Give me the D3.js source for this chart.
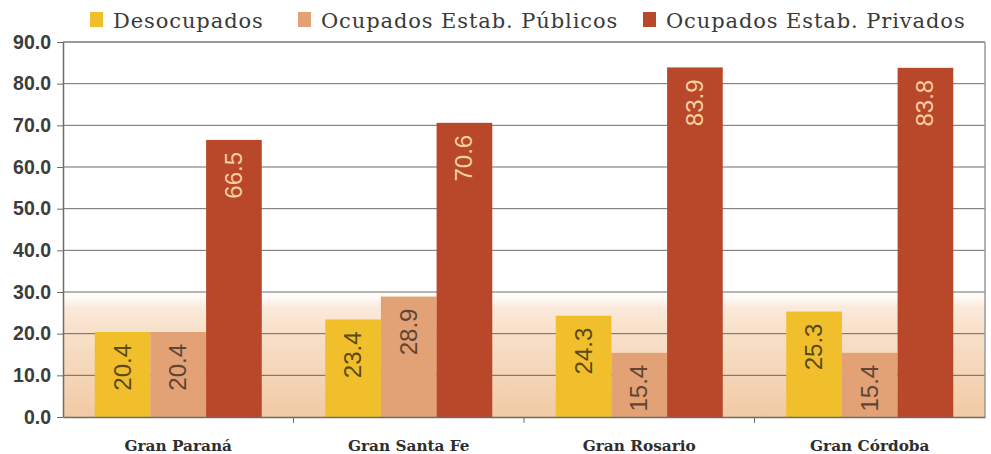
<!DOCTYPE html>
<html>
<head>
<meta charset="utf-8">
<script src="https://cdn.jsdelivr.net/npm/d3@7"></script>
<style>
  html, body { margin: 0; padding: 0; background: #fff; }
  svg { display: block; }
</style>
</head>
<body>
<svg id="chart" width="991" height="454"></svg>
<script>
// Regions and series
const categories = ["Gran Paraná", "Gran Santa Fe", "Gran Rosario", "Gran Córdoba"];
const seriesNames = ["Desocupados", "Ocupados Estab. Públicos", "Ocupados Estab. Privados"];
const desocupados = [20.4, 23.4, 24.3, 25.3];
const publicos = [20.4, 28.9, 15.4, 15.4];
const privados = [66.5, 70.6, 83.9, 83.8];
const yTicks = [0, 10, 20, 30, 40, 50, 60, 70, 80, 90];

const seriesValues = [desocupados, publicos, privados];
const colors = ["#f1bf2c", "#e2a276", "#b9482b"];
const labelColors = ["#5b4a12", "#5e4535", "#f6cf9e"];

const svg = d3.select("#chart");
const margin = { left: 63, right: 6, top: 42, bottom: 37 };
const W = 991, H = 454;
const plotW = W - margin.left - margin.right;
const plotH = H - margin.top - margin.bottom;

const g = svg.append("g").attr("transform", `translate(${margin.left},${margin.top})`);

const y = d3.scaleLinear().domain([0, 90]).range([plotH, 0]);
const x0 = d3.scaleBand().domain(categories).range([0, plotW]).paddingInner(0).paddingOuter(0);
const x1 = d3.scaleBand().domain(seriesNames).range([0, x0.bandwidth()])
  .paddingInner(0).paddingOuter(0.57);

// Warm band at the bottom of the plot area
const defs = svg.append("defs");
const grad = defs.append("linearGradient").attr("id", "warm")
  .attr("x1", 0).attr("x2", 0)
  .attr("gradientUnits", "userSpaceOnUse")
  .attr("y1", y(30)).attr("y2", y(0));
grad.append("stop").attr("offset", 0).attr("stop-color", "#fdf3ea").attr("stop-opacity", 0);
grad.append("stop").attr("offset", 0.12).attr("stop-color", "#fbeadb");
grad.append("stop").attr("offset", 0.33).attr("stop-color", "#f8e0c9");
grad.append("stop").attr("offset", 1).attr("stop-color", "#f1caa5");

g.append("rect").attr("x", 0).attr("y", y(30)).attr("width", plotW).attr("height", y(0) - y(30))
  .attr("fill", "url(#warm)");

// Gridlines
g.append("g").selectAll("line").data(yTicks.filter(d => d > 0)).join("line")
  .attr("x1", 0).attr("x2", plotW)
  .attr("y1", d => y(d)).attr("y2", d => y(d))
  .attr("stroke", d => d === 90 ? "#8a8a86" : "#55554f")
  .attr("stroke-width", d => d === 90 ? 2 : 1)
  .attr("opacity", 0.85);

// Right border
g.append("line").attr("x1", plotW).attr("x2", plotW).attr("y1", y(90)).attr("y2", y(0))
  .attr("stroke", "#9a9a96").attr("stroke-width", 1.5);

// Bars
const groups = g.append("g").selectAll("g").data(categories).join("g")
  .attr("transform", d => `translate(${x0(d)},0)`);

groups.selectAll("rect")
  .data((c, ci) => seriesNames.map((s, si) => ({ s, si, v: seriesValues[si][ci] })))
  .join("rect")
  .attr("x", d => x1(d.s))
  .attr("y", d => y(d.v))
  .attr("width", x1.bandwidth())
  .attr("height", d => y(0) - y(d.v))
  .attr("fill", d => colors[d.si]);

// Rotated value labels inside the bars
groups.selectAll("text.val")
  .data((c, ci) => seriesNames.map((s, si) => ({ s, si, v: seriesValues[si][ci] })))
  .join("text")
  .attr("class", "val")
  .attr("transform", d => `translate(${x1(d.s) + x1.bandwidth() / 2 + 8},${y(d.v) + 12}) rotate(-90)`)
  .attr("text-anchor", "end")
  .attr("font-family", "Liberation Sans, Arial, sans-serif")
  .attr("font-size", 24)
  .attr("fill", d => labelColors[d.si])
  .text(d => d.v.toFixed(1));

// Y axis
const yAxis = g.append("g").call(d3.axisLeft(y).tickValues(yTicks).tickFormat(d3.format(".1f")).tickSize(6).tickSizeOuter(0));
yAxis.select(".domain").attr("stroke", "#6d6d68").attr("stroke-width", 1.5);
yAxis.selectAll(".tick line").attr("stroke", "#6d6d68");
yAxis.selectAll("text")
  .attr("x", -12)
  .attr("font-family", "Liberation Sans, Arial, sans-serif")
  .attr("font-weight", "bold")
  .attr("font-size", 19.5)
  .attr("fill", "#3c3c3a");

// X axis
const xAxis = g.append("g").attr("transform", `translate(0,${plotH})`)
  .call(d3.axisBottom(x0).tickSize(0).tickPadding(0));
xAxis.select(".domain").attr("stroke", "#6d6d68").attr("stroke-width", 1.5);
xAxis.selectAll("text")
  .attr("dy", 0).attr("y", 34)
  .attr("font-family", "DejaVu Serif, serif")
  .attr("font-weight", "bold")
  .attr("font-size", 15.3)
  .attr("fill", "#2e2e2c");
// Group separator ticks
g.append("g").selectAll("line").data(categories.slice(1)).join("line")
  .attr("x1", d => x0(d)).attr("x2", d => x0(d))
  .attr("y1", plotH).attr("y2", plotH + 6)
  .attr("stroke", "#6d6d68");

// Legend
const legendX = [90, 298, 643];
const legend = svg.append("g").selectAll("g").data(seriesNames).join("g")
  .attr("transform", (d, i) => `translate(${legendX[i]},0)`);
legend.append("rect").attr("x", 0).attr("y", 12).attr("width", 13).attr("height", 15)
  .attr("fill", (d, i) => colors[i]);
legend.append("text").attr("x", 23).attr("y", 28)
  .attr("font-family", "DejaVu Serif, serif")
  .attr("font-size", 21)
  .attr("letter-spacing", 0.9)
  .attr("fill", "#3a3a38")
  .text(d => d);
</script>
</body>
</html>
